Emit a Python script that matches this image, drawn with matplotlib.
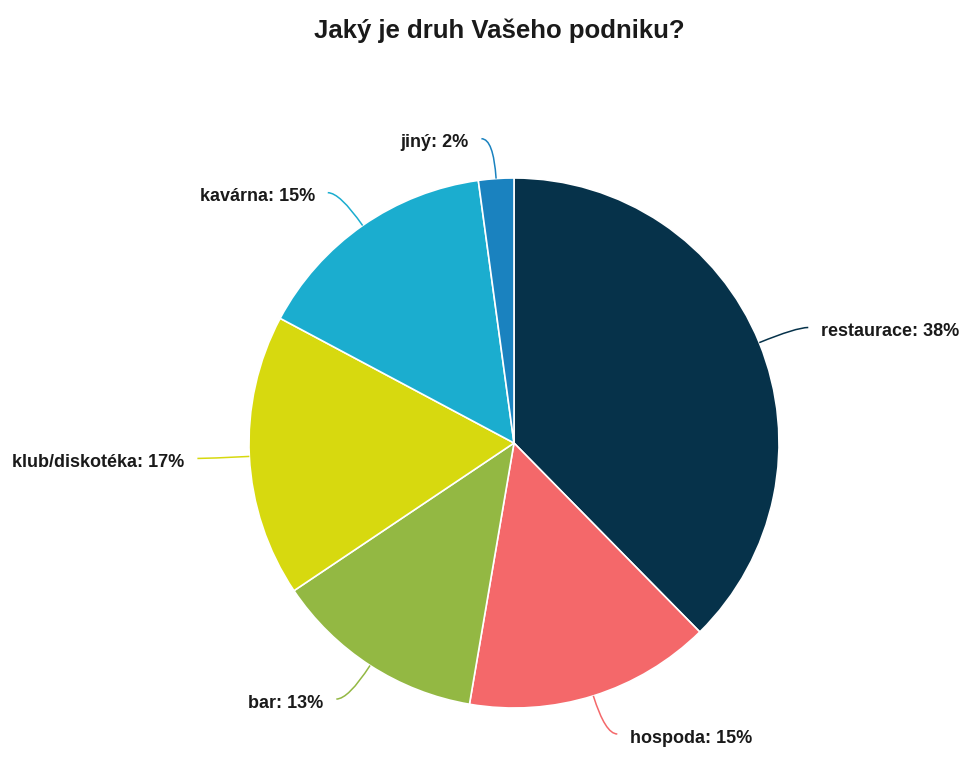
import numpy as np
import matplotlib.pyplot as plt
from matplotlib.path import Path
from matplotlib.patches import PathPatch

plt.rcParams["font.family"] = ["Liberation Sans", "DejaVu Sans"]

# data (counts)
labels = ["restaurace", "hospoda", "bar", "klub/diskotéka", "kavárna", "jiný"]
counts = [70, 28, 24, 32, 28, 4]
colors = ["#06324a", "#f4686a", "#93b843", "#d7d90f", "#1badcf", "#1a82bf"]

W, H = 962, 758
fig = plt.figure(figsize=(W / 100, H / 100), dpi=100)
ax = fig.add_axes([0, 0, 1, 1])

cx, cy, r = 514, H - 443, 265
ax.pie(counts, colors=colors, startangle=90, counterclock=False,
       center=(cx, cy), radius=r, frame=True,
       wedgeprops=dict(edgecolor="white", linewidth=1.2))
ax.set_xlim(0, W)
ax.set_ylim(0, H)
ax.axis("off")

# labels with curved connectors
total = sum(counts)
start = 0
for lab, v, c in zip(labels, counts, colors):
    mid = np.deg2rad((start + v / 2) / total * 360)
    start += v
    dx, dy = np.sin(mid), np.cos(mid)
    p0 = (cx + r * dx, cy + r * dy)
    p1 = (cx + (r + 40) * dx, cy + (r + 40) * dy)
    side = 1 if dx > 0 else -1
    p2 = (p1[0] + side * 12, p1[1])
    path = Path([p0, p1, p2], [Path.MOVETO, Path.CURVE3, Path.CURVE3])
    ax.add_patch(PathPatch(path, fill=False, edgecolor=c, lw=1.1))
    pct = round(v / total * 100)
    ax.text(p2[0] + side * 13, p2[1] - 4, f"{lab}: {pct}%",
            ha="left" if side > 0 else "right", va="center",
            fontsize=13, fontweight="bold", color="#1a1a1a")

fig.text(499 / W, 1 - 31 / H, "Jaký je druh Vašeho podniku?", ha="center",
         va="center", fontsize=18.5, fontweight="bold", color="#1a1a1a")

fig.savefig("out.png", dpi=100, facecolor="white")
